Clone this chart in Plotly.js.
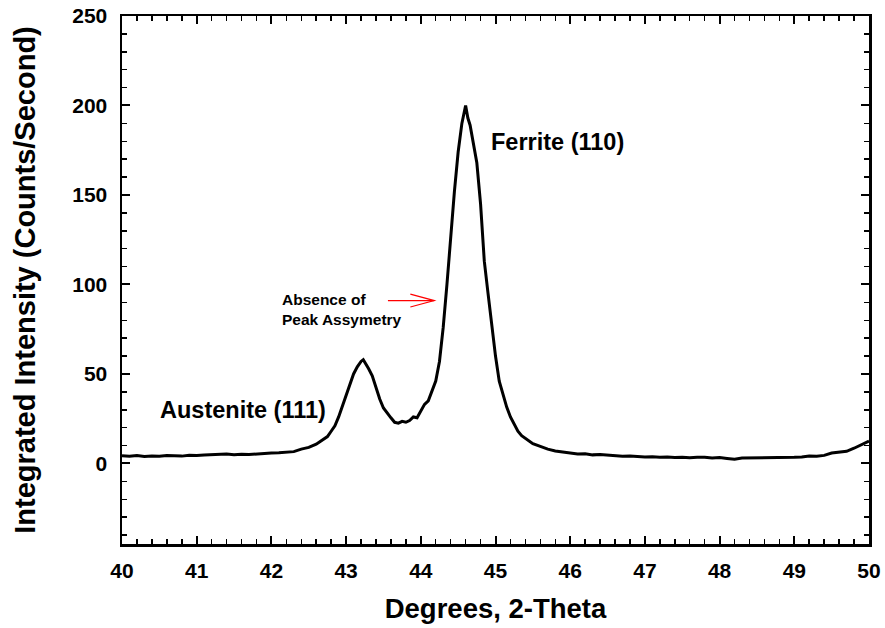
<!DOCTYPE html>
<html>
<head>
<meta charset="utf-8">
<script src="https://cdn.plot.ly/plotly-3.0.1.min.js"></script>
<style>html,body{margin:0;padding:0;background:#fff;}#chart{width:885px;height:628px;}</style>
</head>
<body>
<div id="chart"></div>
<script>
const twoTheta = [
  40.00,40.10,40.20,40.30,40.40,40.50,40.60,40.70,40.80,40.90,
  41.00,41.10,41.20,41.30,41.40,41.50,41.60,41.70,41.80,41.90,
  42.00,42.10,42.20,42.30,42.40,42.50,42.60,42.70,42.75,42.80,
  42.85,42.90,42.95,43.00,43.05,43.10,43.15,43.20,43.23,43.27,
  43.30,43.35,43.40,43.45,43.50,43.55,43.60,43.65,43.70,43.75,
  43.80,43.85,43.90,43.95,44.00,44.05,44.10,44.15,44.20,44.25,
  44.30,44.35,44.40,44.45,44.50,44.55,44.60,44.63,44.66,44.70,
  44.75,44.80,44.85,44.90,44.95,45.00,45.05,45.10,45.15,45.20,
  45.25,45.30,45.35,45.40,45.50,45.60,45.70,45.80,45.90,46.00,
  46.10,46.20,46.30,46.40,46.50,46.60,46.70,46.80,46.90,47.00,
  47.10,47.20,47.30,47.40,47.50,47.60,47.70,47.80,47.90,48.00,
  48.10,48.20,48.30,48.40,48.50,48.60,48.70,48.80,48.90,49.00,
  49.10,49.20,49.30,49.40,49.50,49.60,49.70,49.80,49.90,50.00
];
const intensity = [
  4.3,4.0,4.4,3.9,4.2,4.0,4.5,4.3,4.1,4.6,
  4.4,4.7,4.8,4.9,5.3,4.9,5.2,5.0,5.4,5.5,
  5.8,6.0,6.5,6.6,8.0,9.0,10.8,13.5,15.0,18.0,
  21.0,26.0,32.0,39.0,44.0,50.0,54.0,57.0,58.0,55.5,
  53.0,49.0,42.0,36.0,31.0,28.0,25.5,23.0,22.5,23.5,
  23.0,24.0,26.0,25.5,29.0,33.0,35.0,40.0,46.0,57.0,
  76.0,100.0,127.0,152.0,174.0,190.0,200.0,193.0,189.0,180.0,
  168.0,145.0,113.0,95.0,76.0,60.0,46.0,38.0,31.5,26.0,
  21.5,18.0,15.5,14.0,11.0,9.5,8.0,7.0,6.3,5.8,
  5.3,5.4,4.8,5.0,4.6,4.4,4.0,4.2,3.8,3.6,
  3.7,3.4,3.6,3.3,3.5,3.2,3.4,3.5,3.1,3.3,
  2.8,2.3,3.0,3.0,3.2,3.1,3.0,3.3,3.4,3.4,
  3.6,4.2,4.0,4.5,5.8,6.5,6.8,8.5,10.5,12.5
];
const xTitle = 'Degrees, 2-Theta';
const yTitle = 'Integrated Intensity (Counts/Second)';
const peakLabels = ['Ferrite (110)', 'Austenite (111)'];
const peakLabelX = [44.91, 40.48];
const peakLabelY = [179.5, 30];
const noteText = 'Absence of<br>Peak Assymetry';

const font = 'Liberation Sans, Arial, sans-serif';

const trace = {
  x: twoTheta, y: intensity, type: 'scatter', mode: 'lines',
  line: {color: '#000', width: 3}, hoverinfo: 'skip', showlegend: false
};

const axisCommon = {
  showgrid: false, zeroline: false, showline: true, linecolor: '#000', linewidth: 2.5,
  mirror: 'ticks', ticks: 'inside', ticklen: 8, tickwidth: 2, tickcolor: '#000',
  tickfont: {family: font, size: 21, color: '#000', weight: 'bold'}
};

const layout = {
  width: 885, height: 628,
  margin: {l: 122, r: 16, t: 16, b: 84},
  paper_bgcolor: '#fff', plot_bgcolor: '#fff',
  font: {family: font, color: '#000'},
  xaxis: Object.assign({}, axisCommon, {
    range: [40, 50], dtick: 1, tick0: 40, ticklabelstandoff: 6,
    minor: {dtick: 0.2, ticks: 'inside', ticklen: 5, tickwidth: 1.5, tickcolor: '#000'},
    title: {text: xTitle, font: {family: font, size: 27.5, weight: 'bold', color: '#000'}, standoff: 18}
  }),
  yaxis: Object.assign({}, axisCommon, {
    range: [-45, 250], dtick: 50, tick0: 0, ticklabelstandoff: 8,
    minor: {dtick: 10, ticks: 'inside', ticklen: 5, tickwidth: 1.5, tickcolor: '#000'},
    title: {text: yTitle, font: {family: font, size: 29, weight: 'bold', color: '#000'}, standoff: 28}
  }),
  annotations: [
    {x: peakLabelX[0], y: peakLabelY[0], xref: 'x', yref: 'y', text: peakLabels[0], showarrow: false,
     xanchor: 'left', yanchor: 'middle', font: {family: font, size: 23.5, weight: 'bold', color: '#000'}},
    {x: peakLabelX[1], y: peakLabelY[1], xref: 'x', yref: 'y', text: peakLabels[1], showarrow: false,
     xanchor: 'left', yanchor: 'middle', font: {family: font, size: 23.5, weight: 'bold', color: '#000'}},
    {x: 42.12, y: 86, xref: 'x', yref: 'y', text: noteText, showarrow: false, align: 'left',
     xanchor: 'left', yanchor: 'middle', font: {family: font, size: 15.5, weight: 'bold', color: '#000'}}
  ],
  shapes: [
    {type: 'line', xref: 'x', yref: 'y', x0: 43.56, y0: 91, x1: 44.18, y1: 91, line: {color: '#ff0000', width: 1.2}},
    {type: 'path', xref: 'x', yref: 'y', path: 'M43.86,94.6 L44.18,91 L43.86,87.4', line: {color: '#ff0000', width: 1.2}}
  ]
};

Plotly.newPlot('chart', [trace], layout, {staticPlot: true, displayModeBar: false});
</script>
</body>
</html>
